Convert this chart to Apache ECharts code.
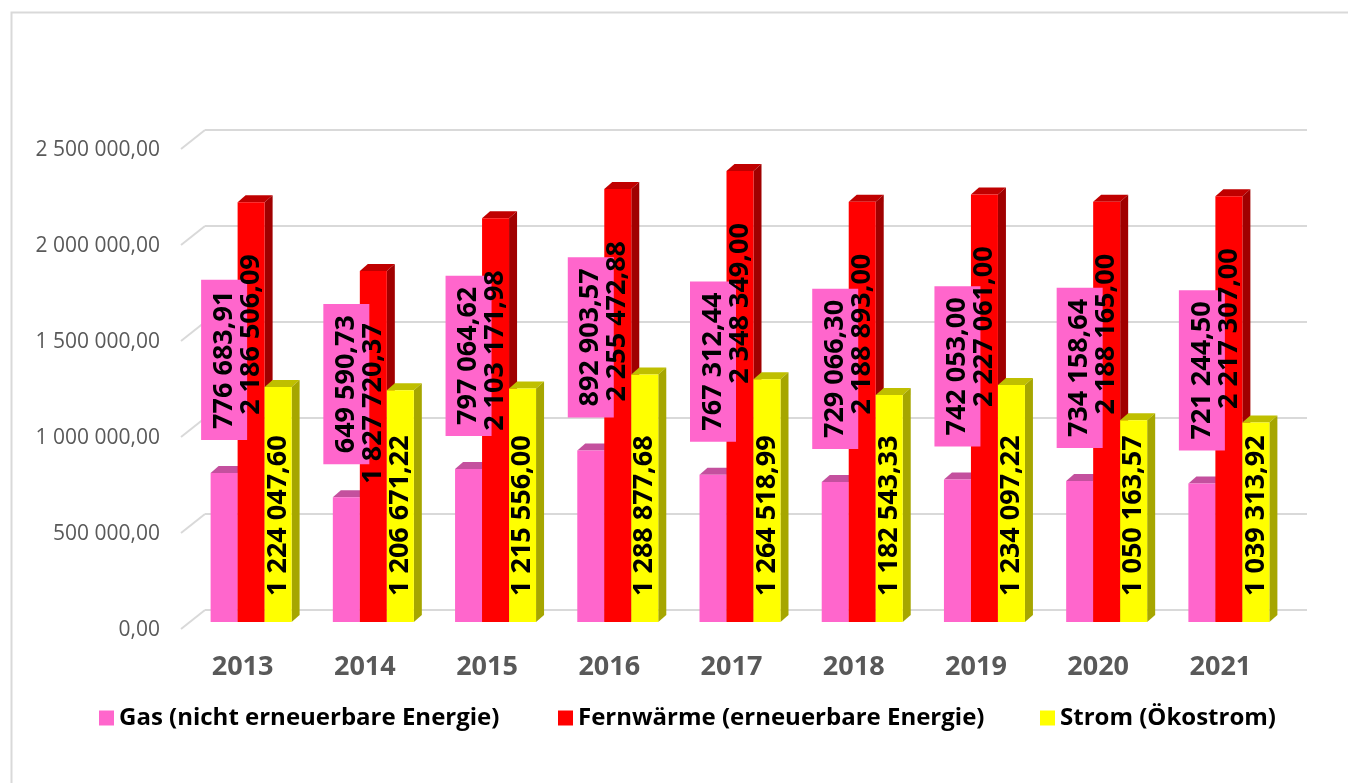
<!DOCTYPE html>
<html><head><meta charset="utf-8">
<script src="https://cdn.jsdelivr.net/npm/echarts@6/dist/echarts.min.js"></script>
<style>html,body{margin:0;padding:0;background:#fff}#c{width:1348px;height:783px}</style>
</head><body><div id="c"></div>
<script>
const years = ['2013','2014','2015','2016','2017','2018','2019','2020','2021'];
const gas = [776683.91, 649590.73, 797064.62, 892903.57, 767312.44, 729066.30, 742053.00, 734158.64, 721244.50];
const fernwaerme = [2186506.09, 1827720.37, 2103171.98, 2255472.88, 2348349.00, 2188893.00, 2227061.00, 2188165.00, 2217307.00];
const strom = [1224047.60, 1206671.22, 1215556.00, 1288877.68, 1264518.99, 1182543.33, 1234097.22, 1050163.57, 1039313.92];
const seriesNames = ['Gas (nicht erneuerbare Energie)', 'Fernwärme (erneuerbare Energie)', 'Strom (Ökostrom)'];
const yTicks = [0, 500000, 1000000, 1500000, 2000000, 2500000];

const FONT = "'Open Sans', 'Noto Sans', sans-serif";
const BW = 27, DX = 8, DY = 7;

function fmt(v){
  const s = Number(v).toFixed(2).split('.');
  return s[0].replace(/\B(?=(\d{3})+(?!\d))/g, ' ') + ',' + s[1];
}

function faces(k, topColor, sideColor){
  return function(params, api){
    const i = api.value(0), v = api.value(1);
    const t = api.coord([i, v]);
    const b = api.coord([i, 0]);
    const xl = t[0] - 1.5 * BW + k * BW, xr = xl + BW;
    const yt = t[1], yb = b[1];
    return {type:'group', children:[
      {type:'polygon', shape:{points:[[xl,yt],[xr,yt],[xr+DX,yt-DY],[xl+DX,yt-DY]]}, style:{fill:topColor}},
      {type:'polygon', shape:{points:[[xr,yt],[xr+DX,yt-DY],[xr+DX,yb-DY],[xr,yb]]}, style:{fill:sideColor}}
    ]};
  };
}

const labelBase = {show:true, rotate:90, verticalAlign:'middle', fontSize:27, fontWeight:'bold', color:'#000', fontFamily:FONT, formatter:p => fmt(p.value)};
const legendText = {fontSize:24, fontWeight:'bold', color:'#000', fontFamily:FONT};

const chart = echarts.init(document.getElementById('c'), null, {renderer:'canvas'});
chart.setOption({
  animation:false,
  backgroundColor:'#fff',
  textStyle:{fontFamily:FONT},
  graphic:[{type:'rect', left:9, top:10, shape:{width:1400, height:820}, style:{fill:'none', stroke:'#D9D9D9', lineWidth:2}, z:-10, silent:true}],
  legend:[
    {data:[seriesNames[0]], left:94, top:701, icon:'rect', itemWidth:15, itemHeight:15, textStyle:legendText},
    {data:[seriesNames[1]], left:553, top:701, icon:'rect', itemWidth:15, itemHeight:15, textStyle:legendText},
    {data:[seriesNames[2]], left:1035, top:701, icon:'rect', itemWidth:15, itemHeight:15, textStyle:legendText}
  ],
  grid:[
    {left:190, right:58, top:142, bottom:161},
    {left:205, right:41, top:130, bottom:173}
  ],
  xAxis:[
    {type:'category', gridIndex:0, data:years, axisLine:{show:false}, axisTick:{show:false},
     axisLabel:{fontSize:27, fontWeight:'bold', color:'#595959', margin:32, padding:[0,17,0,0], fontFamily:FONT}},
    {type:'value', gridIndex:1, min:0, max:1, show:false}
  ],
  yAxis:[
    {type:'value', gridIndex:0, min:0, max:2500000, interval:500000, splitLine:{show:false}, axisLine:{show:false}, axisTick:{show:false},
     axisLabel:{fontSize:21, color:'#595959', margin:30, verticalAlign:'top', lineHeight:16, fontFamily:FONT, formatter:v => fmt(v)}},
    {type:'value', gridIndex:1, min:0, max:2500000, interval:500000, axisLabel:{show:false}, axisLine:{show:false}, axisTick:{show:false},
     splitLine:{show:true, lineStyle:{color:'#D9D9D9', width:2}}}
  ],
  series:[
    {type:'custom', name:'slant', xAxisIndex:1, yAxisIndex:1, silent:true, z:0,
     data:yTicks.map(v => [0, v]),
     renderItem:function(params, api){
       const p = api.coord([0, api.value(1)]);
       return {type:'line', shape:{x1:p[0]-24, y1:p[1]+19, x2:p[0], y2:p[1]}, style:{stroke:'#D9D9D9', lineWidth:2}};
     }},
    {type:'custom', name:'gas3d', xAxisIndex:0, yAxisIndex:0, silent:true, z:1, data:gas.map((v,i)=>[i,v]), renderItem:faces(0,'#C4509E','#B04090')},
    {type:'custom', name:'fw3d', xAxisIndex:0, yAxisIndex:0, silent:true, z:1, data:fernwaerme.map((v,i)=>[i,v]), renderItem:faces(1,'#C00000','#A00000')},
    {type:'custom', name:'st3d', xAxisIndex:0, yAxisIndex:0, silent:true, z:1, data:strom.map((v,i)=>[i,v]), renderItem:faces(2,'#BFBF00','#A6A600')},
    {type:'bar', name:seriesNames[0], data:gas, barWidth:BW, barGap:'0%', z:2, itemStyle:{color:'#FF66CC'},
     label:Object.assign({}, labelBase, {position:'top', distance:33, align:'left', backgroundColor:'#FF66CC', padding:[8,11], lineHeight:30})},
    {type:'bar', name:seriesNames[1], data:fernwaerme, barWidth:BW, barGap:'0%', z:2, itemStyle:{color:'#FF0000'},
     label:Object.assign({}, labelBase, {position:'insideTop', distance:52, align:'right'})},
    {type:'bar', name:seriesNames[2], data:strom, barWidth:BW, barGap:'0%', z:2, itemStyle:{color:'#FFFF00'},
     label:Object.assign({}, labelBase, {position:'insideBottom', distance:26, align:'left'})}
  ]
});
</script></body></html>
